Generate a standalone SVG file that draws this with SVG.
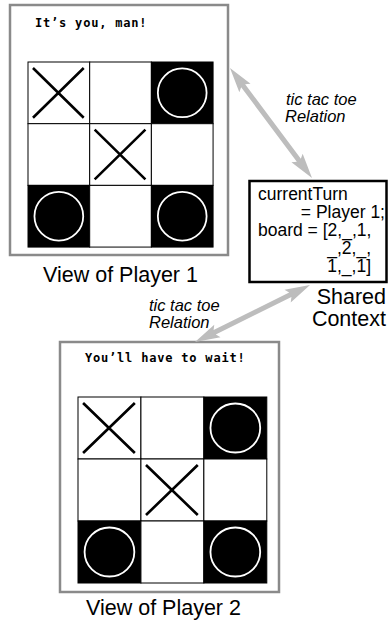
<svg xmlns="http://www.w3.org/2000/svg" xmlns:xlink="http://www.w3.org/1999/xlink" width="389" height="624" viewBox="0 0 389 624">
  <style>
    .frame { fill: #ffffff; stroke: #8a8a8a; stroke-width: 2.5; }
    .cell { fill: #ffffff; stroke: #000000; stroke-width: 1; }
    .dark { fill: #000000; stroke: #000000; stroke-width: 1; }
    .cross { stroke: #000000; stroke-width: 2.6; fill: none; }
    .ring { stroke: #ffffff; stroke-width: 1.8; fill: none; }
    .pix { font-family: "DejaVu Sans Mono", monospace; font-weight: bold; font-size: 12px; letter-spacing: 0.8px; fill: #000; }
    .caption { font-family: "Liberation Sans", Arial, sans-serif; font-size: 21.5px; fill: #000; }
    .rel { font-family: "Liberation Sans", Arial, sans-serif; font-style: italic; font-size: 16.5px; fill: #000; }
    .ctx { font-family: "Liberation Sans", Arial, sans-serif; font-size: 17.5px; fill: #000; }
    .ctxbox { fill: #ffffff; stroke: #000000; stroke-width: 2.5; }
    .arrow { fill: #bdbdbd; stroke: none; }
  </style>
  <defs>
    <!-- 3x3 board, 62px cells -->
    <g id="board">
      <rect class="cell" x="0" y="0" width="62" height="62"/>
      <rect class="cell" x="62" y="0" width="62" height="62"/>
      <rect class="dark" x="124" y="0" width="62" height="62"/>
      <rect class="cell" x="0" y="62" width="62" height="62"/>
      <rect class="cell" x="62" y="62" width="62" height="62"/>
      <rect class="cell" x="124" y="62" width="62" height="62"/>
      <rect class="dark" x="0" y="124" width="62" height="62"/>
      <rect class="cell" x="62" y="124" width="62" height="62"/>
      <rect class="dark" x="124" y="124" width="62" height="62"/>
      <!-- crosses -->
      <path class="cross" d="M5,6 L56,56 M56,6 L5,56"/>
      <path class="cross" d="M67,68 L118,118 M118,68 L67,118"/>
      <!-- rings -->
      <circle class="ring" cx="155" cy="31" r="24.5"/>
      <circle class="ring" cx="31" cy="155" r="24.5"/>
      <circle class="ring" cx="155" cy="155" r="24.5"/>
    </g>
  </defs>

  <g id="view-player-1">
    <rect class="frame" x="10" y="5" width="218" height="250"/>
    <text class="pix" x="35" y="27">It’s you, man!</text>
    <use xlink:href="#board" transform="translate(28,62) scale(0.995)"/>
    <text class="caption" x="43" y="282">View of Player 1</text>
  </g>

  <g id="view-player-2">
    <rect class="frame" x="60" y="342" width="219" height="250"/>
    <text class="pix" x="85" y="362">You’ll have to wait!</text>
    <use xlink:href="#board" transform="translate(78,397) scale(1.015,1)"/>
    <text class="caption" x="86" y="615">View of Player 2</text>
  </g>

  <g id="shared-context">
    <rect class="ctxbox" x="249.5" y="181" width="137" height="101"/>
    <text class="ctx" x="258" y="200">currentTurn</text>
    <text class="ctx" x="385" y="218" text-anchor="end">= Player 1;</text>
    <text class="ctx" x="258" y="236">board = [2,_,1,</text>
    <text class="ctx" x="371" y="254" text-anchor="end">_,2,_,</text>
    <text class="ctx" x="371" y="272" text-anchor="end">1,_,1]</text>
    <text class="caption" x="386" y="304" text-anchor="end">Shared</text>
    <text class="caption" x="386" y="326" text-anchor="end">Context</text>
  </g>

  <g id="connectors">
    <!-- view 1 <-> shared context -->
    <polygon class="arrow" transform="translate(230,68) rotate(53.3)"
             points="0,0 25,-7 22,-2.5 115.2,-2.5 112.2,-7 137.2,0 112.2,7 115.2,2.5 22,2.5 25,7"/>
    <text class="rel" x="286" y="105">tic tac toe</text>
    <text class="rel" x="285" y="122">Relation</text>
    <!-- shared context <-> view 2 -->
    <polygon class="arrow" transform="translate(310,285) rotate(153.6)"
             points="0,0 25,-7 22,-2.5 106.4,-2.5 103.4,-7 128.4,0 103.4,7 106.4,2.5 22,2.5 25,7"/>
    <text class="rel" x="149" y="311">tic tac toe</text>
    <text class="rel" x="149" y="328">Relation</text>
  </g>
</svg>
